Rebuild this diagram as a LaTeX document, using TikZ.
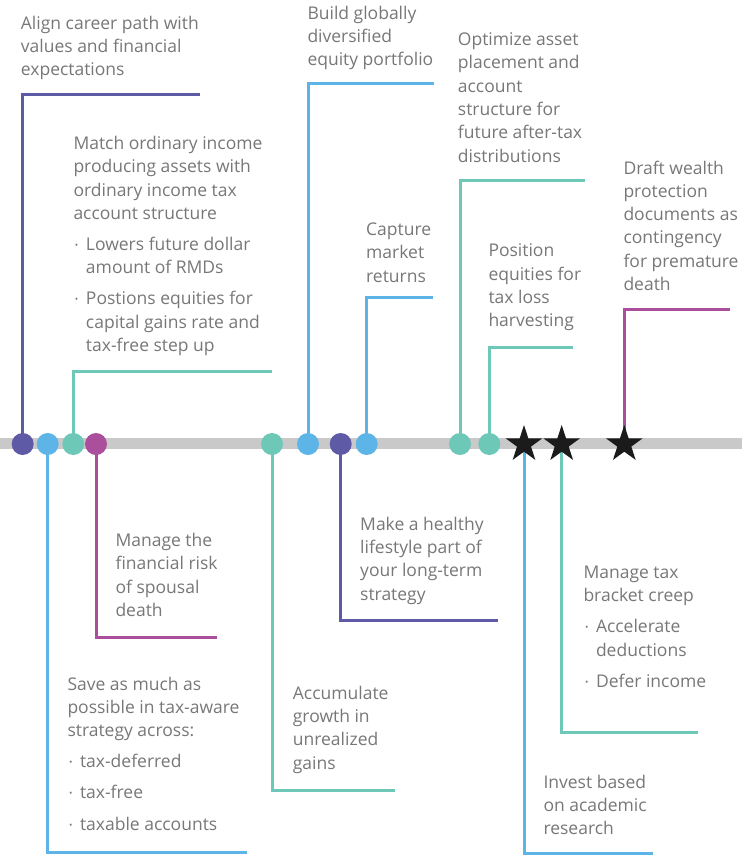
\documentclass[tikz,border=0pt]{standalone}
\usepackage{fontspec}
\setmainfont{Open Sans}
\usetikzlibrary{shapes.geometric}
\pgfdeclarelayer{bg}
\pgfsetlayers{bg,main}
\definecolor{cpurple}{HTML}{5E5AA6}
\definecolor{cblue}{HTML}{5DB4E6}
\definecolor{cteal}{HTML}{6DC8B8}
\definecolor{cmagenta}{HTML}{AB4E9C}
\definecolor{cstar}{HTML}{1B1B1B}
\definecolor{cbar}{HTML}{C9C9C9}
\definecolor{ctext}{HTML}{777777}
\newcommand\bul{\makebox[12.5pt][l]{\hspace*{1.5pt}\raisebox{2.2pt}{\fontsize{9}{9}\selectfont •}}}
\newcommand\ind{\hspace*{12.5pt}}
\begin{document}
\begin{tikzpicture}[x=1pt,y=-1pt,
  dot/.style={circle, inner sep=0pt, minimum size=22pt, draw=none},
  starmark/.style={star, star points=5, star point ratio=2.618, minimum size=38.6pt, inner sep=0pt, fill=cstar, draw=none},
  conn/.style={line width=3pt},
  lbl/.style={anchor=base west, align=left, inner sep=0pt, text=ctext, font=\fontsize{17.5}{23.3}\selectfont},
]
\useasboundingbox (0,0) rectangle (742,855);
% timeline points
\node[dot, fill=cpurple] (d1) at (22.7,444) {};
\node[dot, fill=cblue] (d2) at (47.7,444) {};
\node[dot, fill=cteal] (d3) at (73.3,444) {};
\node[dot, fill=cmagenta] (d4) at (96,444) {};
\node[dot, fill=cteal] (d5) at (272,444) {};
\node[dot, fill=cblue] (d6) at (308,444) {};
\node[dot, fill=cpurple] (d7) at (340.7,444) {};
\node[dot, fill=cblue] (d8) at (366.7,444) {};
\node[dot, fill=cteal] (d9) at (460,444) {};
\node[dot, fill=cteal] (d10) at (489.3,444) {};
\node[starmark] (s1) at (524,444.3) {};
\node[starmark] (s2) at (561.7,444.3) {};
\node[starmark] (s3) at (624.3,444.3) {};
% corner end points
\coordinate (barL) at (0,443.8);
\coordinate (barR) at (742,443.8);
\coordinate (e1) at (200,94);
\coordinate (e3) at (272,371.5);
\coordinate (e6) at (434,83.5);
\coordinate (e8) at (433,297);
\coordinate (e9) at (585,180);
\coordinate (e10) at (573,347);
\coordinate (es3) at (730,309.5);
\coordinate (e2) at (247,852);
\coordinate (e4) at (217,637);
\coordinate (e5) at (395,790);
\coordinate (e7) at (498,620);
\coordinate (es1) at (653,853);
\coordinate (es2) at (698,732);
\begin{pgfonlayer}{bg}
\draw[cbar, line width=11pt] (barL) -- (barR);
\draw[conn, cpurple] (d1.center) |- (e1);
\draw[conn, cteal] (d3.center) |- (e3);
\draw[conn, cblue] (d6.center) |- (e6);
\draw[conn, cblue] (d8.center) |- (e8);
\draw[conn, cteal] (d9.center) |- (e9);
\draw[conn, cteal] (d10.center) |- (e10);
\draw[conn, cmagenta] (s3.center) |- (es3);
\draw[conn, cblue] (d2.center) |- (e2);
\draw[conn, cmagenta] (d4.center) |- (e4);
\draw[conn, cteal] (d5.center) |- (e5);
\draw[conn, cpurple] (d7.center) |- (e7);
\draw[conn, cblue] (s1.center) |- (es1);
\draw[conn, cteal] (s2.center) |- (es2);
\end{pgfonlayer}
% labels (anchored at the baseline of the last line)
\node[lbl] (t1) at (20.7,75.9) {Align career path with\\values and financial\\expectations};
\node[lbl] (t2) at (73.3,351.4) {Match ordinary income\\producing assets with\\ordinary income tax\\account structure\\[7.5pt]\bul Lowers future dollar\\\ind amount of RMDs\\[8pt]\bul Postions equities for\\\ind capital gains rate and\\\ind tax-free step up};
\node[lbl] (t3) at (307.3,65.6) {Build globally\\diversified\\equity portfolio};
\node[lbl] (t4) at (457.7,162) {Optimize asset\\placement and\\account\\structure for\\future after-tax\\distributions};
\node[lbl] (t5) at (366,282) {Capture\\market\\returns};
\node[lbl] (t6) at (488.3,326.6) {Position\\equities for\\tax loss\\harvesting};
\node[lbl] (t7) at (623.3,290.5) {Draft wealth\\protection\\documents as\\contingency\\for premature\\death};
\node[lbl] (t8) at (115.3,616.4) {Manage the\\financial risk\\of spousal\\death};
\node[lbl] (t9) at (67.3,830.2) {Save as much as\\possible in tax-aware\\strategy across:\\[7.5pt]\bul tax-deferred\\[8pt]\bul tax-free\\[8pt]\bul taxable accounts};
\node[lbl] (t10) at (360,600) {Make a healthy\\lifestyle part of\\your long-term\\strategy};
\node[lbl] (t11) at (292.7,769) {Accumulate\\growth in\\unrealized\\gains};
\node[lbl] (t12) at (583.3,687.5) {Manage tax\\bracket creep\\[8pt]\bul Accelerate\\\ind deductions\\[8pt]\bul Defer income};
\node[lbl] (t13) at (543.3,834.9) {Invest based\\on academic\\research};
\end{tikzpicture}
\end{document}
